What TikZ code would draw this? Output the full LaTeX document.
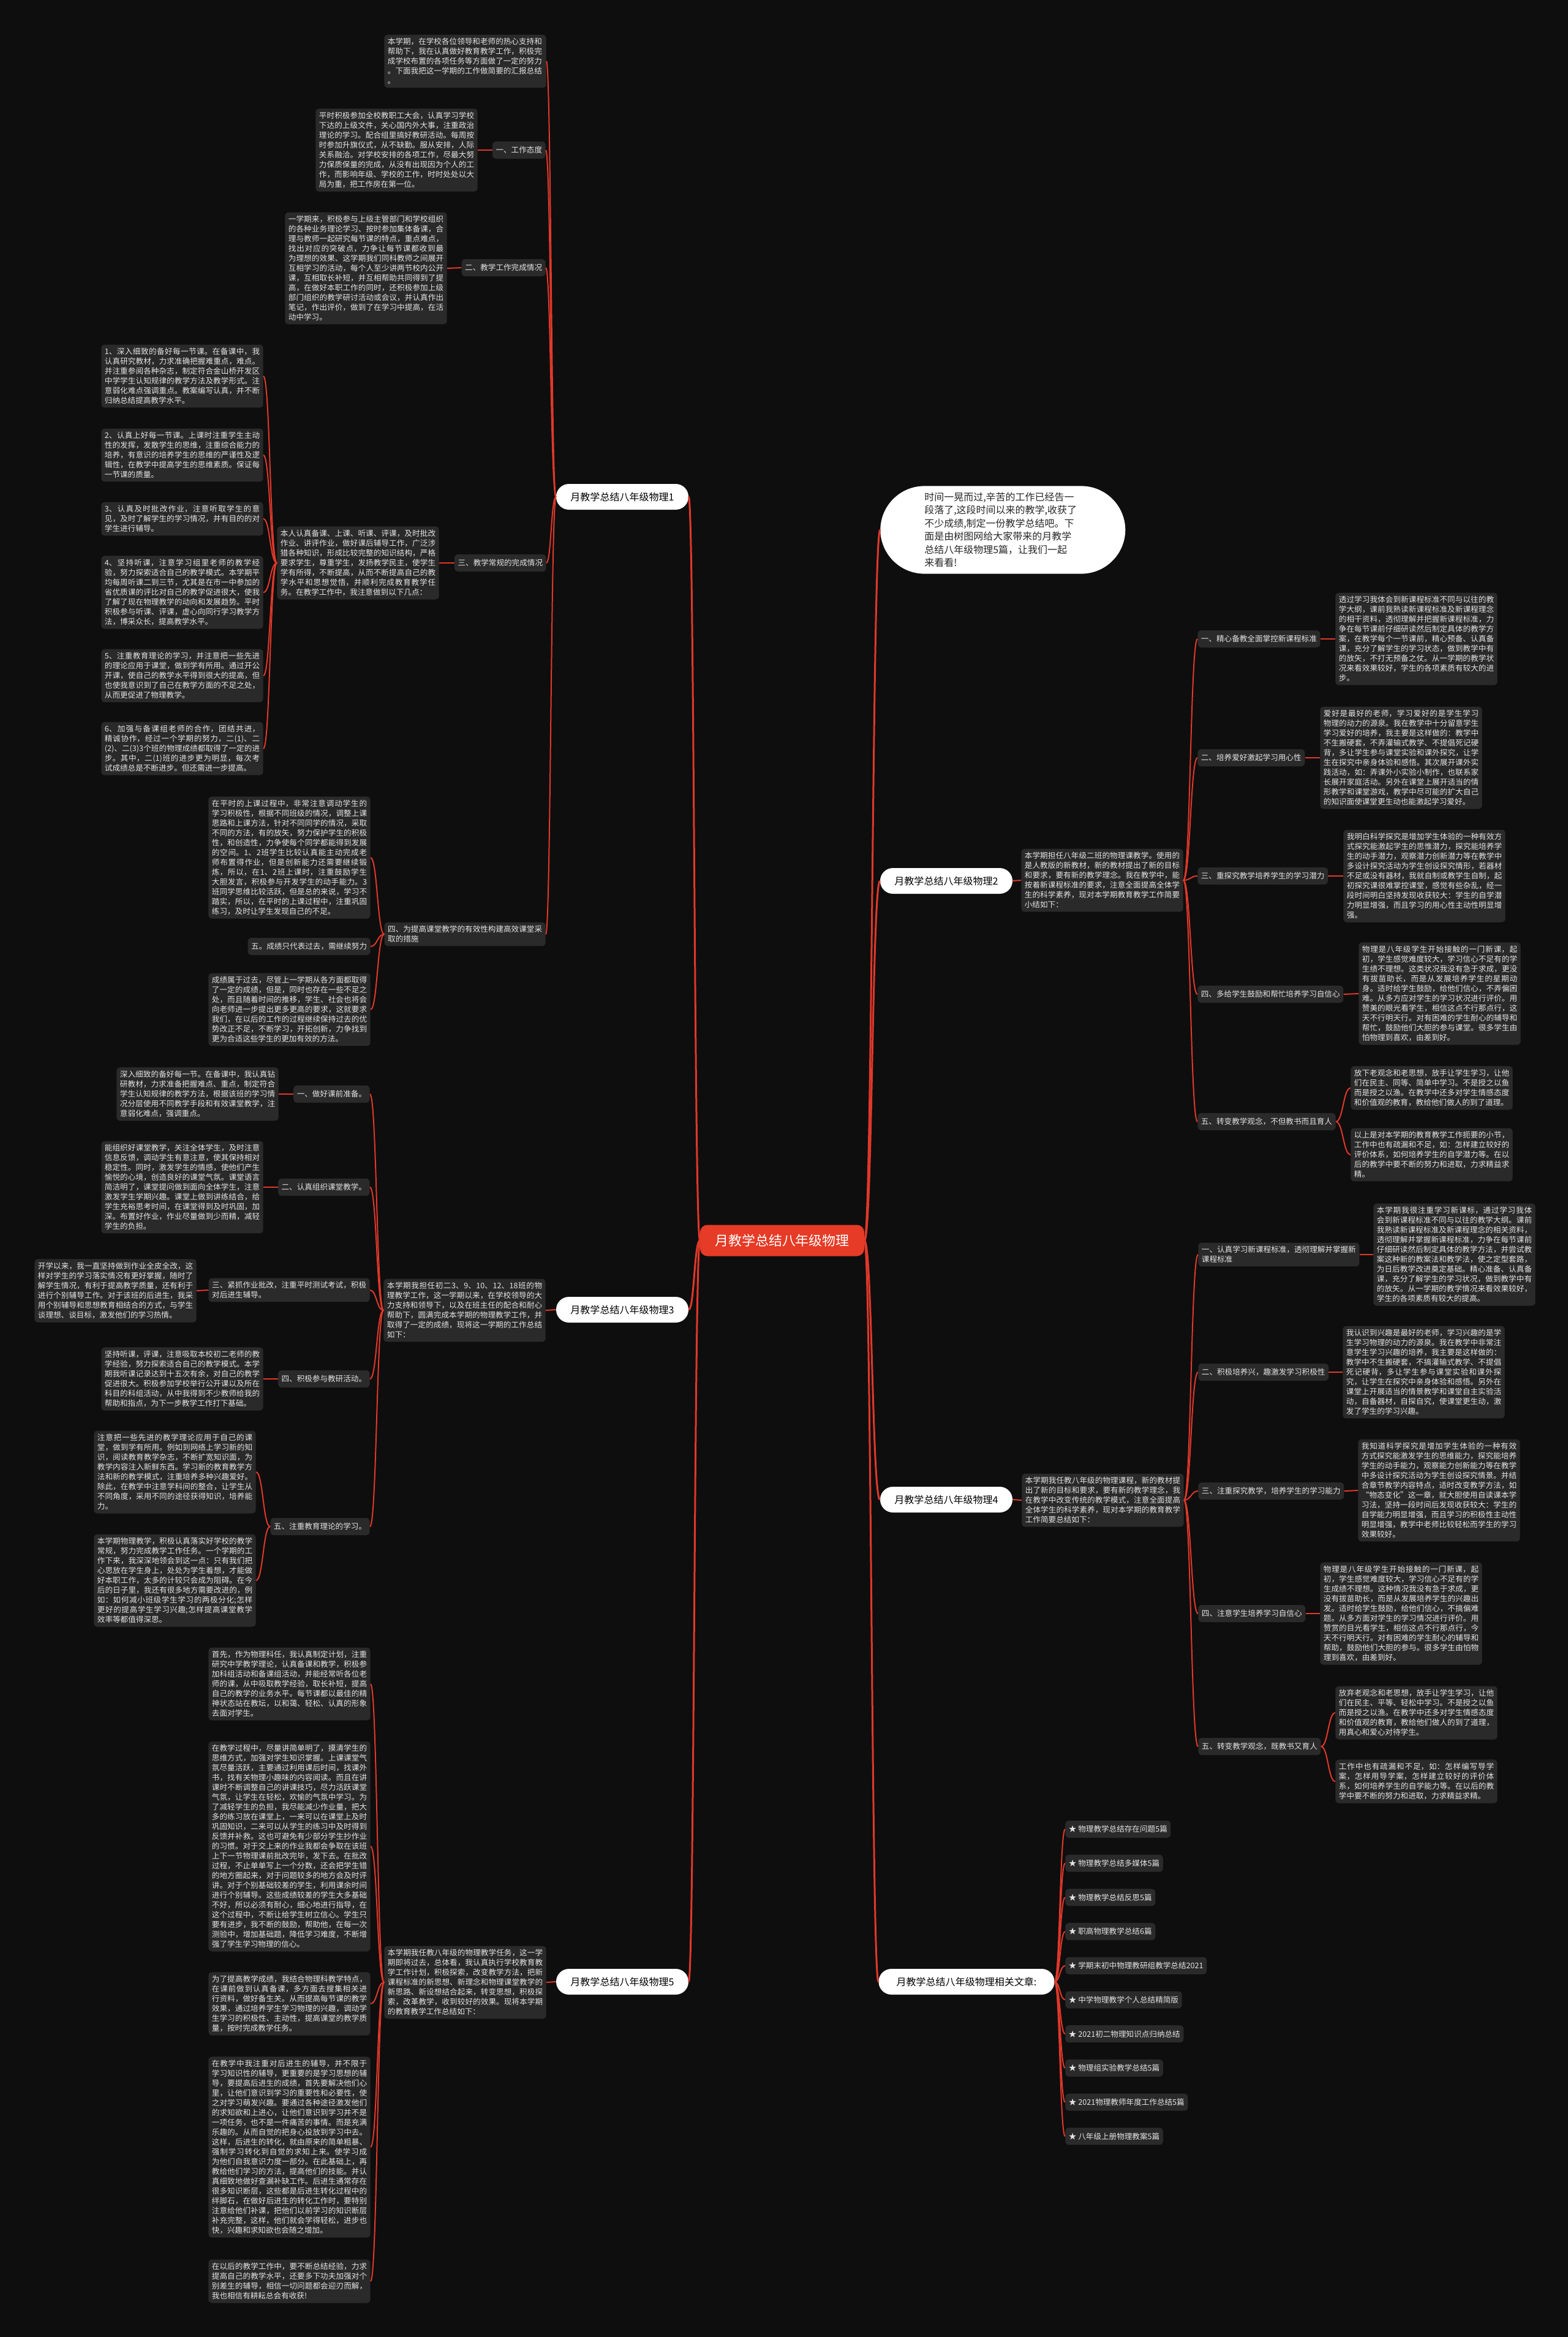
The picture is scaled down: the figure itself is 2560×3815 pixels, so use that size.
\documentclass[tikz,border=0pt]{standalone}
\usepackage{fontspec}
\setmainfont{Noto Sans CJK SC}
\XeTeXlinebreaklocale "zh"
\XeTeXlinebreakskip = 0pt plus 1pt
\usetikzlibrary{calc}

\definecolor{bgdark}{HTML}{0E0E0E}
\definecolor{boxgrey}{HTML}{2A2A2A}
\definecolor{txtgrey}{HTML}{E4E4E4}
\definecolor{linkred}{HTML}{E0382A}
\definecolor{rootred}{HTML}{E63B26}

% curved mind-map connector: leaves and enters horizontally
\newcommand{\mmlink}[3][]{%
  \draw[link,#1] let \p1=(#2), \p2=(#3) in
    (\p1) .. controls ({0.5*\x1+0.5*\x2},\y1) and ({0.5*\x1+0.5*\x2},\y2) .. (\p2);}

\begin{document}
\begin{tikzpicture}[
    x=0.25mm, y=-0.25mm,
    para/.style={
        rectangle, rounded corners=1.5mm,
        fill=boxgrey, text=txtgrey,
        text width=63.3mm, align=justify,
        inner xsep=1.4mm, inner ysep=1.4mm,
        font=\fontsize{8.96}{11.38}\selectfont
    },
    topic/.style={
        rectangle, rounded corners=1.5mm,
        fill=boxgrey, text=txtgrey,
        align=left, minimum height=7mm,
        inner xsep=1.4mm, inner ysep=1.4mm,
        font=\fontsize{8.96}{11.38}\selectfont
    },
    branch/.style={
        rectangle, rounded corners=5.2mm,
        fill=white, text=black,
        minimum width=54mm, minimum height=10.5mm,
        font=\fontsize{11.4}{13}\selectfont
    },
    root/.style={
        rectangle, rounded corners=3mm,
        fill=rootred, text=white,
        minimum width=67mm, minimum height=12.75mm,
        font=\fontsize{15.6}{18}\selectfont
    },
    bubble/.style={
        rectangle, rounded corners=18mm,
        fill=white, text=black!85,
        text width=64mm, align=left,
        inner xsep=18mm, inner ysep=2.6mm,
        font=\fontsize{11.38}{15.3}\selectfont
    },
    link/.style={draw=linkred, line width=0.5mm},
    mainlink/.style={draw=linkred, line width=0.75mm}
]

\fill[bgdark] (0,0) rectangle (2560,3815);
\useasboundingbox (0,0) rectangle (2560,3815);

\node[root] (root) at (1277,2025) {月教学总结八年级物理};

% ---------------- branch 1 ----------------
\node[branch] (b1) at (1016,811) {月教学总结八年级物理1};

\node[para, anchor=east, align=left] (b1top) at (892,100) {本学期，在学校各位领导和老师的热心支持和\\帮助下，我在认真做好教育教学工作，积极完\\成学校布置的各项任务等方面做了一定的努力\\。下面我把这一学期的工作做简要的汇报总结\\。};

\node[topic, anchor=east] (b1a) at (891,245) {一、工作态度};
\node[para, anchor=east] (b1ap) at (780,245) {平时积极参加全校教职工大会，认真学习学校下达的上级文件，关心国内外大事，注重政治理论的学习。配合组里搞好教研活动。每周按时参加升旗仪式，从不缺勤。服从安排，人际关系融洽。对学校安排的各项工作，尽最大努力保质保量的完成，从没有出现因为个人的工作，而影响年级、学校的工作，时时处处以大局为重，把工作房在第一位。};

\node[topic, anchor=east] (b1b) at (891,437) {二、教学工作完成情况};
\node[para, anchor=east] (b1bp) at (730,438) {一学期来，积极参与上级主管部门和学校组织的各种业务理论学习、按时参加集体备课，合理与教师一起研究每节课的特点，重点难点，找出对应的突破点，力争让每节课都收到最为理想的效果、这学期我们同科教师之间展开互相学习的活动，每个人至少讲两节校内公开课，互相取长补短，并互相帮助共同得到了提高，在做好本职工作的同时，还积极参加上级部门组织的教学研讨活动或会议，并认真作出笔记，作出评价，做到了在学习中提高，在活动中学习。};

\node[topic, anchor=east] (b1c) at (892,919) {三、教学常规的完成情况};
\node[para, anchor=east] (b1cp) at (717,919) {本人认真备课、上课、听课、评课，及时批改作业、讲评作业，做好课后辅导工作，广泛涉猎各种知识，形成比较完整的知识结构，严格要求学生，尊重学生，发扬教学民主，使学生学有所得，不断提高，从而不断提高自己的教学水平和思想觉悟，并顺利完成教育教学任务。在教学工作中，我注意做到以下几点：};

\node[para, anchor=east] (b1c1) at (430,614) {1、深入细致的备好每一节课。在备课中，我认真研究教材，力求准确把握难重点，难点。并注重参阅各种杂志，制定符合金山桥开发区中学学生认知规律的教学方法及教学形式。注意弱化难点强调重点。教案编写认真，并不断归纳总结提高教学水平。};
\node[para, anchor=east] (b1c2) at (430,743) {2、认真上好每一节课。上课时注重学生主动性的发挥，发散学生的思维，注重综合能力的培养，有意识的培养学生的思维的严谨性及逻辑性，在教学中提高学生的思维素质。保证每一节课的质量。};
\node[para, anchor=east] (b1c3) at (430,847) {3、认真及时批改作业，注意听取学生的意见，及时了解学生的学习情况，并有目的的对学生进行辅导。};
\node[para, anchor=east] (b1c4) at (430,967) {4、坚持听课，注意学习组里老师的教学经验，努力探索适合自己的教学模式。本学期平均每周听课二到三节，尤其是在市一中参加的省优质课的评比对自己的教学促进很大，使我了解了现在物理教学的动向和发展趋势。平时积极参与听课、评课，虚心向同行学习教学方法，博采众长，提高教学水平。};
\node[para, anchor=east] (b1c5) at (430,1103) {5、注重教育理论的学习，并注意把一些先进的理论应用于课堂，做到学有所用。通过开公开课，使自己的教学水平得到很大的提高，但也使我意识到了自己在教学方面的不足之处，从而更促进了物理教学。};
\node[para, anchor=east] (b1c6) at (430,1222) {6、加强与备课组老师的合作，团结共进，精诚协作，经过一个学期的努力，二(1)、二(2)、二(3)3个班的物理成绩都取得了一定的进步。其中，二(1)班的进步更为明显，每次考试成绩总是不断进步。但还需进一步提高。};

\node[topic, anchor=east] (b1d) at (891,1525) {四、为提高课堂教学的有效性构建高效课堂采\\取的措施};
\node[para, anchor=east] (b1d1) at (605,1400) {在平时的上课过程中，非常注意调动学生的学习积极性，根据不同班级的情况，调整上课思路和上课方法，针对不同同学的情况，采取不同的方法，有的放矢，努力保护学生的积极性，和创造性，力争使每个同学都能得到发展的空间。1、2班学生比较认真能主动完成老师布置得作业，但是创新能力还需要继续锻炼，所以，在1、2班上课时，注重鼓励学生大胆发言，积极参与开发学生的动手能力。3班同学思维比较活跃，但是总的来说，学习不踏实，所以，在平时的上课过程中，注重巩固练习，及时让学生发现自己的不足。};
\node[topic, anchor=east] (b1d2) at (605,1545) {五。成绩只代表过去，需继续努力};
\node[para, anchor=east] (b1d3) at (605,1648) {成绩属于过去，尽管上一学期从各方面都取得了一定的成绩，但是，同时也存在一些不足之处，而且随着时间的推移，学生、社会也将会向老师进一步提出更多更高的要求，这就要求我们，在以后的工作的过程继续保持过去的优势改正不足，不断学习，开拓创新，力争找到更为合适这些学生的更加有效的方法。};

\mmlink[mainlink]{root.west}{b1.east}
\foreach \k in {b1top,b1a,b1b,b1c,b1d} {\mmlink{b1.west}{\k.east}}
\mmlink{b1a.west}{b1ap.east}
\mmlink{b1b.west}{b1bp.east}
\mmlink{b1c.west}{b1cp.east}
\foreach \k in {1,...,6} {\mmlink{b1cp.west}{b1c\k.east}}
\foreach \k in {1,2,3} {\mmlink{b1d.west}{b1d\k.east}}

% ---------------- branch 3 ----------------
\node[branch] (b3) at (1016,2138) {月教学总结八年级物理3};
\node[para, anchor=east] (b3m) at (891,2139) {本学期我担任初二3、9、10、12、18班的物理教学工作，这一学期以来，在学校领导的大力支持和领导下，以及在班主任的配合和耐心帮助下，圆满完成本学期的物理教学工作，并取得了一定的成绩，现将这一学期的工作总结如下：};

\node[topic, anchor=east] (b3a) at (604,1786) {一、做好课前准备。};
\node[para, anchor=east] (b3ap) at (455,1786) {深入细致的备好每一节。在备课中，我认真钻研教材，力求准备把握难点、重点，制定符合学生认知规律的教学方法，根据该班的学习情况分层使用不同教学手段和有效课堂教学，注意弱化难点，强调重点。};
\node[topic, anchor=east] (b3b) at (604,1938) {二、认真组织课堂教学。};
\node[para, anchor=east] (b3bp) at (430,1938) {能组织好课堂教学，关注全体学生，及时注意信息反馈，调动学生有意注意，使其保持相对稳定性。同时，激发学生的情感，使他们产生愉悦的心境，创造良好的课堂气氛。课堂语言简洁明了，课堂提问做到面向全体学生，注意激发学生学期兴趣。课堂上做到讲练结合，给学生充裕思考时间，在课堂得到及时巩固，加深。布置好作业，作业尽量做到少而精，减轻学生的负担。};
\node[topic, anchor=east] (b3c) at (604,2106) {三、紧抓作业批改，注重平时测试考试，积极\\对后进生辅导。};
\node[para, anchor=east] (b3cp) at (321,2107) {开学以来，我一直坚持做到作业全皮全改，这样对学生的学习落实情况有更好掌握，随时了解学生情况，有利于提高教学质量，还有利于进行个别辅导工作。对于该班的后进生，我采用个别辅导和思想教育相结合的方式，与学生谈理想、谈目标，激发他们的学习热情。};
\node[topic, anchor=east] (b3d) at (604,2251) {四、积极参与教研活动。};
\node[para, anchor=east] (b3dp) at (430,2251) {坚持听课，评课，注意吸取本校初二老师的教学经验，努力探索适合自己的教学模式。本学期我听课记录达到十五次有余，对自己的教学促进很大。积极参加学校举行公开课以及所在科目的科组活动，从中我得到不少教师给我的帮助和指点，为下一步教学工作打下基础。};
\node[topic, anchor=east] (b3e) at (604,2492) {五、注重教育理论的学习。};
\node[para, anchor=east] (b3e1) at (418,2403) {注意把一些先进的教学理论应用于自己的课堂，做到学有所用。例如到网络上学习新的知识，阅读教育教学杂志，不断扩宽知识面，为教学内容注入新鲜东西。学习新的教育教学方法和新的教学模式，注重培养多种兴趣爱好。除此，在教学中注意学科间的整合，让学生从不同角度，采用不同的途径获得知识，培养能力。};
\node[para, anchor=east] (b3e2) at (418,2580) {本学期物理教学，积极认真落实好学校的教学常规，努力完成教学工作任务。一个学期的工作下来，我深深地领会到这一点：只有我们把心思放在学生身上，处处为学生着想，才能做好本职工作，太多的计较只会成为阻碍。在今后的日子里，我还有很多地方需要改进的，例如：如何减小班级学生学习的两极分化;怎样更好的提高学生学习兴趣;怎样提高课堂教学效率等都值得深思。};

\mmlink[mainlink]{root.west}{b3.east}
\mmlink{b3.west}{b3m.east}
\foreach \k in {a,b,c,d,e} {\mmlink{b3m.west}{b3\k.east}}
\foreach \k in {a,b,c,d} {\mmlink{b3\k.west}{b3\k p.east}}
\mmlink{b3e.west}{b3e1.east}
\mmlink{b3e.west}{b3e2.east}

% ---------------- branch 5 ----------------
\node[branch] (b5) at (1016,3235) {月教学总结八年级物理5};
\node[para, anchor=east] (b5m) at (892,3236) {本学期我任教八年级的物理教学任务，这一学期即将过去，总体看，我认真执行学校教育教学工作计划，积极探索，改变教学方法，把新课程标准的新思想、新理念和物理课堂教学的新思路、新设想结合起来，转变思想，积极探索，改革教学，收到较好的效果。现将本学期的教育教学工作总结如下：};

\node[para, anchor=east] (b5p1) at (605,2749) {首先，作为物理科任，我认真制定计划，注重研究中学教学理论，认真备课和教学，积极参加科组活动和备课组活动，并能经常听各位老师的课，从中吸取教学经验，取长补短，提高自己的教学的业务水平。每节课都以最佳的精神状态站在教坛，以和蔼、轻松、认真的形象去面对学生。};
\node[para, anchor=east] (b5p2) at (605,3014) {在教学过程中，尽量讲简单明了，摸清学生的思维方式，加强对学生知识掌握。上课课堂气氛尽量活跃，主要通过利用课后时间，找课外书，找有关物理小趣味的内容阅读。而且在讲课时不断调整自己的讲课技巧，尽力活跃课堂气氛，让学生在轻松，欢愉的气氛中学习。为了减轻学生的负担，我尽能减少作业量，把大多的练习放在课堂上，一来可以在课堂上及时巩固知识，二来可以从学生的练习中及时得到反馈并补救。这也可避免有少部分学生抄作业的习惯。对于交上来的作业我都会争取在该班上下一节物理课前批改完毕，发下去。在批改过程，不止单单写上一个分数，还会把学生错的地方圈起来，对于问题较多的地方会及时评讲。对于个别基础较差的学生，利用课余时间进行个别辅导。这些成绩较差的学生大多基础不好，所以必须有耐心，细心地进行指导，在这个过程中，不断让给学生树立信心。学生只要有进步，我不断的鼓励，帮助他，在每一次测验中，增加基础题，降低学习难度，不断增强了学生学习物理的信心。};
\node[para, anchor=east] (b5p3) at (605,3271) {为了提高教学成绩，我结合物理科教学特点，在课前做到认真备课，多方面去搜集相关进行资料，做好备生关。从而提高每节课的教学效果，通过培养学生学习物理的兴趣，调动学生学习的积极性、主动性，提高课堂的教学质量，按时完成教学任务。};
\node[para, anchor=east] (b5p4) at (605,3505) {在教学中我注重对后进生的辅导，并不限于学习知识性的辅导，更重要的是学习思想的辅导，要提高后进生的成绩，首先要解决他们心里，让他们意识到学习的重要性和必要性，使之对学习萌发兴趣。要通过各种途径激发他们的求知欲和上进心，让他们意识到学习并不是一项任务，也不是一件痛苦的事情。而是充满乐趣的。从而自觉的把身心投放到学习中去。这样，后进生的转化，就由原来的简单粗暴、强制学习转化到自觉的求知上来。使学习成为他们自我意识力度一部分。在此基础上，再教给他们学习的方法，提高他们的技能。并认真细致地做好查漏补缺工作。后进生通常存在很多知识断层，这些都是后进生转化过程中的绊脚石，在做好后进生的转化工作时，要特别注意给他们补课，把他们以前学习的知识断层补充完整，这样，他们就会学得轻松，进步也快，兴趣和求知欲也会随之增加。};
\node[para, anchor=east] (b5p5) at (605,3724) {在以后的教学工作中，要不断总结经验，力求提高自己的教学水平，还要多下功夫加强对个别差生的辅导，相信一切问题都会迎刃而解，我也相信有耕耘总会有收获!};

\mmlink[mainlink]{root.west}{b5.east}
\mmlink{b5.west}{b5m.east}
\foreach \k in {1,...,5} {\mmlink{b5m.west}{b5p\k.east}}

% ---------------- intro bubble ----------------
\node[bubble, anchor=west] (intro) at (1437,865) {时间一晃而过,辛苦的工作已经告一\\段落了,这段时间以来的教学,收获了\\不少成绩,制定一份教学总结吧。下\\面是由树图网给大家带来的月教学\\总结八年级物理5篇，让我们一起\\来看看!};
\mmlink[mainlink]{root.east}{intro.west}

% ---------------- branch 2 ----------------
\node[branch] (b2) at (1545,1438) {月教学总结八年级物理2};
\node[para, anchor=west] (b2m) at (1667,1437) {本学期担任八年级二班的物理课教学。使用的是人教版的新教材，新的教材提出了新的目标和要求，要有新的教学理念。我在教学中，能按着新课程标准的要求，注意全面提高全体学生的科学素养，现对本学期教育教学工作简要小结如下：};

\node[topic, anchor=west] (b2a) at (1955,1043) {一、精心备教全面掌控新课程标准};
\node[para, anchor=west] (b2ap) at (2180,1043) {透过学习我体会到新课程标准不同与以往的教学大纲，课前我熟读新课程标准及新课程理念的相干资料，透彻理解并把握新课程标准，力争在每节课前仔细研读然后制定具体的教学方案，在教学每个一节课前，精心预备、认真备课，充分了解学生的学习状态，做到教学中有的放矢，不打无预备之仗。从一学期的教学状况来看效果较好，学生的各项素质有较大的进步。};
\node[topic, anchor=west] (b2b) at (1955,1237) {二、培养爱好激起学习用心性};
\node[para, anchor=west] (b2bp) at (2155,1237) {爱好是最好的老师，学习爱好的是学生学习物理的动力的源泉。我在教学中十分留意学生学习爱好的培养，我主要是这样做的：教学中不生搬硬套，不弄灌输式教学、不提倡死记硬背，多让学生参与课堂实验和课外探究，让学生在探究中亲身体验和感悟。其次展开课外实践活动，如：弄课外小实验小制作，也联系家长展开家庭活动。另外在课堂上展开适当的情形教学和课堂游戏，教学中尽可能的扩大自己的知识面使课堂更生动也能激起学习爱好。};
\node[topic, anchor=west] (b2c) at (1955,1430) {三、重探究教学培养学生的学习潜力};
\node[para, anchor=west] (b2cp) at (2193,1430) {我明白科学探究是增加学生体验的一种有效方式探究能激起学生的思惟潜力，探究能培养学生的动手潜力，观察潜力创新潜力等在教学中多设计探究活动为学生创设探究情形，若器材不足或没有器材，我就自制或教学生自制，起初探究课很难掌控课堂，感觉有些杂乱，经一段时间明白坚持发现收获较大：学生的自学潜力明显增强，而且学习的用心性主动性明显增强。};
\node[topic, anchor=west] (b2d) at (1955,1623) {四、多给学生鼓励和帮忙培养学习自信心};
\node[para, anchor=west] (b2dp) at (2218,1622) {物理是八年级学生开始接触的一门新课，起初，学生感觉难度较大，学习信心不足有的学生绩不理想。这类状况我没有急于求成，更没有拔苗助长，而是从发展培养学生的星期动身。适时给学生鼓励，给他们信心，不弄偏困难。从多方应对学生的学习状况进行评价。用赞美的眼光看学生，相信这点不行那点行，这天不行明天行。对有困难的学生耐心的辅导和帮忙，鼓励他们大胆的参与课堂。很多学生由怕物理到喜欢，由差到好。};
\node[topic, anchor=west] (b2e) at (1955,1831) {五、转变教学观念，不但教书而且育人};
\node[para, anchor=west] (b2e1) at (2205,1776) {放下老观念和老思想，放手让学生学习，让他们在民主、同等、简单中学习。不是授之以鱼而是授之以渔。在教学中还多对学生情感态度和价值观的教育，教给他们做人的到了道理。};
\node[para, anchor=west] (b2e2) at (2205,1885) {以上是对本学期的教育教学工作扼要的小节，工作中也有疏漏和不足，如：怎样建立较好的评价体系，如何培养学生的自学潜力等。在以后的教学中要不断的努力和进取，力求精益求精。};

\mmlink[mainlink]{root.east}{b2.west}
\mmlink{b2.east}{b2m.west}
\foreach \k in {a,b,c,d,e} {\mmlink{b2m.east}{b2\k.west}}
\foreach \k in {a,b,c,d} {\mmlink{b2\k.east}{b2\k p.west}}
\mmlink{b2e.east}{b2e1.west}
\mmlink{b2e.east}{b2e2.west}

% ---------------- branch 4 ----------------
\node[branch] (b4) at (1545,2448) {月教学总结八年级物理4};
\node[para, anchor=west] (b4m) at (1668,2449) {本学期我任教八年级的物理课程，新的教材提出了新的目标和要求，要有新的教学理念，我在教学中改变传统的教学模式，注意全面提高全体学生的科学素养，现对本学期的教育教学工作简要总结如下：};

\node[topic, anchor=west] (b4a) at (1956,2048) {一、认真学习新课程标准，透彻理解并掌握新\\课程标准};
\node[para, anchor=west] (b4ap) at (2242,2048) {本学期我很注重学习新课标，通过学习我体会到新课程标准不同与以往的教学大纲。课前我熟读新课程标准及新课程理念的相关资料，透彻理解并掌握新课程标准，力争在每节课前仔细研读然后制定具体的教学方法，并尝试教案这种新的教案法和教学法，使之定型套路，为日后教学改进奠定基础。精心准备、认真备课，充分了解学生的学习状况，做到教学中有的放矢。从一学期的教学情况来看效果较好，学生的各项素质有较大的提高。};
\node[topic, anchor=west] (b4b) at (1956,2240) {二、积极培养兴，趣激发学习积极性};
\node[para, anchor=west] (b4bp) at (2192,2240) {我认识到兴趣是最好的老师，学习兴趣的是学生学习物理的动力的源泉。我在教学中非常注意学生学习兴趣的培养，我主要是这样做的：教学中不生搬硬套，不搞灌输式教学、不提倡死记硬背，多让学生参与课堂实验和课外探究，让学生在探究中亲身体验和感悟。另外在课堂上开展适当的情景教学和课堂自主实验活动，自备器材，自探自究，使课堂更生动，激发了学生的学习兴趣。};
\node[topic, anchor=west] (b4c) at (1956,2434) {三、注重探究教学，培养学生的学习能力};
\node[para, anchor=west] (b4cp) at (2217,2433) {我知道科学探究是增加学生体验的一种有效方式探究能激发学生的思维能力，探究能培养学生的动手能力，观察能力创新能力等在教学中多设计探究活动为学生创设探究情景。并结合章节教学内容特点，适时改变教学方法，如“物态变化”这一章，就大胆使用自读课本学习法，坚持一段时间后发现收获较大：学生的自学能力明显增强，而且学习的积极性主动性明显增强，教学中老师比较轻松而学生的学习效果较好。};
\node[topic, anchor=west] (b4d) at (1956,2634) {四、注意学生培养学习自信心};
\node[para, anchor=west] (b4dp) at (2155,2634) {物理是八年级学生开始接触的一门新课，起初，学生感觉难度较大，学习信心不足有的学生成绩不理想。这种情况我没有急于求成，更没有拔苗助长，而是从发展培养学生的兴趣出发。适时给学生鼓励，给他们信心，不搞偏难题。从多方面对学生的学习情况进行评价。用赞赏的目光看学生，相信这点不行那点行，今天不行明天行。对有困难的学生耐心的辅导和帮助，鼓励他们大胆的参与。很多学生由怕物理到喜欢，由差到好。};
\node[topic, anchor=west] (b4e) at (1956,2851) {五、转变教学观念，既教书又育人};
\node[para, anchor=west] (b4e1) at (2180,2796) {放弃老观念和老思想，放手让学生学习，让他们在民主、平等、轻松中学习。不是授之以鱼而是授之以渔。在教学中还多对学生情感态度和价值观的教育，教给他们做人的到了道理，用真心和爱心对待学生。};
\node[para, anchor=west] (b4e2) at (2180,2908) {工作中也有疏漏和不足，如：怎样编写导学案，怎样用导学案，怎样建立较好的评价体系，如何培养学生的自学能力等。在以后的教学中要不断的努力和进取，力求精益求精。};

\mmlink[mainlink]{root.east}{b4.west}
\mmlink{b4.east}{b4m.west}
\foreach \k in {a,b,c,d,e} {\mmlink{b4m.east}{b4\k.west}}
\foreach \k in {a,b,c,d} {\mmlink{b4\k.east}{b4\k p.west}}
\mmlink{b4e.east}{b4e1.west}
\mmlink{b4e.east}{b4e2.west}

% ---------------- related articles ----------------
\node[branch, minimum width=71.75mm] (brel) at (1578,3235) {月教学总结八年级物理相关文章:};
\mmlink[mainlink]{root.east}{brel.west}
\foreach \txt [count=\i from 0] in {物理教学总结存在问题5篇, 物理教学总结多媒体5篇, 物理教学总结反思5篇, 职高物理教学总结6篇, 学期末初中物理教研组教学总结2021, 中学物理教学个人总结精简版, 2021初二物理知识点归纳总结, 物理组实验教学总结5篇, 2021物理教师年度工作总结5篇, 八年级上册物理教案5篇} {
    \node[topic, anchor=west] (rel\i) at (1739,{2986+55.7*\i}) {★ \txt};
    \mmlink{brel.east}{rel\i.west}
}

\end{tikzpicture}
\end{document}
